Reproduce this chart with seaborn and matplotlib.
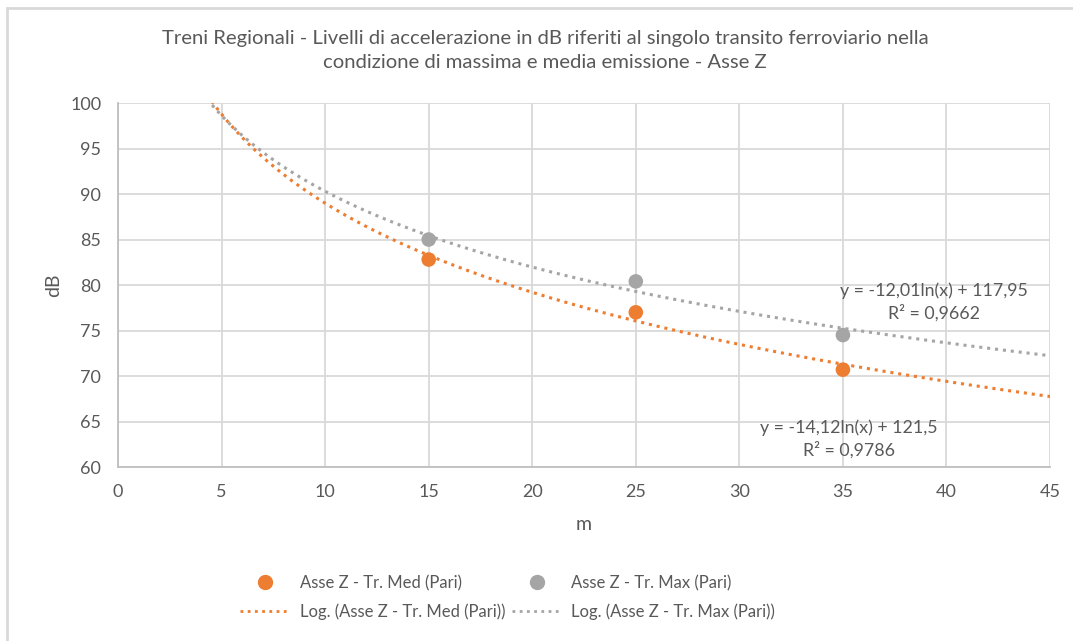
from matplotlib import pyplot as plt
from matplotlib.patches import Rectangle
import seaborn as sns
import pandas as pd
import numpy as np

# distances (m) and measured levels (dB)
dist_m = [15, 25, 35]
med_db = [82.8, 77.0, 70.7]
max_db = [85.0, 80.4, 74.5]

# log trendline coefficients as printed on the chart
med_a, med_b, med_r2 = -14.12, 121.5, 0.9786
max_a, max_b, max_r2 = -12.01, 117.95, 0.9662

lab_med = 'Asse Z - Tr. Med (Pari)'
lab_max = 'Asse Z - Tr. Max (Pari)'
title = ('Treni Regionali - Livelli di accelerazione in dB riferiti al singolo transito ferroviario nella\n'
         'condizione di massima e media emissione - Asse Z')

c_med = '#ED7D31'
c_max = '#A5A5A5'
txt = '#595959'

sns.set_theme(style='whitegrid')
plt.rcParams['font.family'] = ['Lato', 'DejaVu Sans']

pts = pd.DataFrame({'m': dist_m * 2, 'dB': med_db + max_db,
                    'serie': [lab_med] * 3 + [lab_max] * 3})

xs = np.linspace(4.3, 45, 300)
trend = pd.DataFrame({'m': np.concatenate([xs, xs]),
                      'dB': np.concatenate([med_a * np.log(xs) + med_b, max_a * np.log(xs) + max_b]),
                      'serie': ['Log. (' + lab_med + ')'] * len(xs) + ['Log. (' + lab_max + ')'] * len(xs)})

fig = plt.figure(figsize=(10.73, 6.41), dpi=100)
ax = fig.add_axes([0.110, 0.2714, 0.8686, 0.5679])

sns.lineplot(data=trend, x='m', y='dB', hue='serie', ax=ax,
             palette=[c_med, c_max], linewidth=2.2, legend=False)
for l in ax.lines:
    l.set_linestyle((0, (1, 1.6)))
sns.scatterplot(data=pts, x='m', y='dB', hue='serie', ax=ax, palette=[c_med, c_max],
                s=110, edgecolor='none', legend=False, zorder=5)

ax.set_xlim(0, 45)
ax.set_ylim(60, 100)
ax.set_xticks(range(0, 46, 5))
ax.set_yticks(range(60, 101, 5))
ax.grid(True, color='#d9d9d9', linewidth=1.3)
for s in ['top', 'right']:
    ax.spines[s].set_visible(False)
for s in ['left', 'bottom']:
    ax.spines[s].set_color('#bfbfbf')
    ax.spines[s].set_linewidth(1.3)
ax.tick_params(axis='both', colors=txt, labelsize=13, length=0)
ax.tick_params(axis='x', pad=12)
ax.tick_params(axis='y', pad=12)
ax.set_xlabel('m', color=txt, fontsize=14, labelpad=12)
ax.set_ylabel('dB', color=txt, fontsize=14, labelpad=6)

ax.text(39.4, 78.1, f'y = {max_a:.2f}ln(x) + {max_b:.2f}\nR² = {max_r2:.4f}'.replace('.', ','),
        ha='center', va='center', color=txt, fontsize=12.8, linespacing=1.35)
ax.text(35.3, 63.1, f'y = {med_a:.2f}ln(x) + {med_b}\nR² = {med_r2:.4f}'.replace('.', ','),
        ha='center', va='center', color=txt, fontsize=12.8, linespacing=1.35)

fig.text(0.508, 0.921, title, ha='center', va='center', color=txt, fontsize=14.6, linespacing=1.45)

h_med = plt.Line2D([], [], marker='o', color=c_med, linestyle='none', markersize=10)
h_max = plt.Line2D([], [], marker='o', color=c_max, linestyle='none', markersize=10)
h_lmed = plt.Line2D([], [], color=c_med, linewidth=2, linestyle=(0, (1, 1.6)))
h_lmax = plt.Line2D([], [], color=c_max, linewidth=2, linestyle=(0, (1, 1.6)))
leg = fig.legend([h_med, h_lmed, h_max, h_lmax],
                 [lab_med, 'Log. (' + lab_med + ')', lab_max, 'Log. (' + lab_max + ')'],
                 ncol=2, loc='center', bbox_to_anchor=(0.473, 0.068), frameon=False,
                 fontsize=12, handlelength=3.0, handletextpad=0.55, columnspacing=0.4,
                 labelspacing=0.75)
for t in leg.get_texts():
    t.set_color(txt)

fig.patches.append(Rectangle((0.0065, -0.01), 1.0, 0.9975, transform=fig.transFigure,
                             fill=False, edgecolor='#d9d9d9', linewidth=2))

fig.savefig('out.png', dpi=100)
